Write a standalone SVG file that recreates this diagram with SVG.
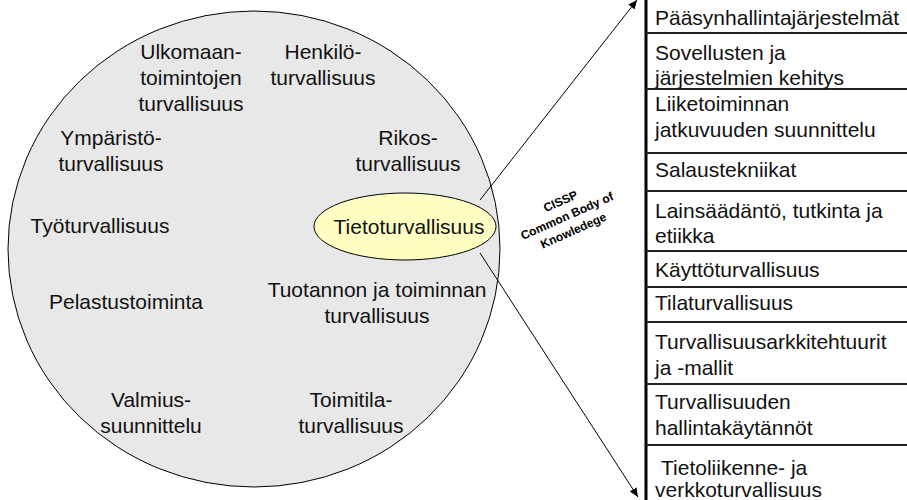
<svg xmlns="http://www.w3.org/2000/svg" width="907" height="500" viewBox="0 0 907 500">
<defs>
<marker id="arr" markerWidth="10" markerHeight="10" refX="9" refY="5" orient="auto" markerUnits="userSpaceOnUse">
<path d="M0,1 L9,5 L0,9 z" fill="#000"/>
</marker>
<style>
.t{font-family:"Liberation Sans",Arial,sans-serif;font-size:21px;fill:#111;}
.c{text-anchor:middle;}
.r{font-family:"Liberation Sans",Arial,sans-serif;font-size:21px;fill:#111;}
.sep{stroke:#222;stroke-width:2;}
.cbk{font-family:"Liberation Sans",Arial,sans-serif;font-size:12px;font-weight:bold;fill:#000;text-anchor:middle;}
.con{stroke:#000;stroke-width:1;fill:none;}
</style>
</defs>
<rect width="907" height="500" fill="#fff"/>
<g id="security-circle">
<ellipse cx="254" cy="249" rx="246" ry="238" fill="#e8e8e8" stroke="#000" stroke-width="1"/>
</g>
<g id="ulkomaan">
<text class="t c" x="191" y="59">Ulkomaan-</text>
<text class="t c" x="191" y="85">toimintojen</text>
<text class="t c" x="191" y="111">turvallisuus</text>
</g>
<g id="henkilo">
<text class="t c" x="323" y="59">Henkilö-</text>
<text class="t c" x="323" y="85">turvallisuus</text>
</g>
<g id="ymparisto">
<text class="t c" x="111" y="145">Ympäristö-</text>
<text class="t c" x="111" y="171">turvallisuus</text>
</g>
<g id="rikos">
<text class="t c" x="408" y="145">Rikos-</text>
<text class="t c" x="408" y="171">turvallisuus</text>
</g>
<g id="tyo">
<text class="t c" x="100" y="233">Työturvallisuus</text>
</g>
<g id="pelastus">
<text class="t c" x="126" y="309">Pelastustoiminta</text>
</g>
<g id="tuotanto">
<text class="t c" x="377" y="297">Tuotannon ja toiminnan</text>
<text class="t c" x="377" y="323">turvallisuus</text>
</g>
<g id="valmius">
<text class="t c" x="151" y="407">Valmius-</text>
<text class="t c" x="151" y="433">suunnittelu</text>
</g>
<g id="toimitila">
<text class="t c" x="351" y="407">Toimitila-</text>
<text class="t c" x="351" y="433">turvallisuus</text>
</g>
<g id="tietoturvallisuus">
<ellipse cx="405" cy="226.5" rx="91" ry="33.5" fill="#ffffc4" stroke="#000" stroke-width="1"/>
<text class="t c" x="409" y="234">Tietoturvallisuus</text>
</g>
<g id="connectors">
<line class="con" x1="480" y1="200" x2="637" y2="0" marker-end="url(#arr)"/>
<line class="con" x1="480" y1="253" x2="638" y2="497" marker-end="url(#arr)"/>
</g>
<g id="cissp-label" transform="translate(567,216) rotate(-24)">
<text class="cbk" x="0" y="-12">CISSP</text>
<text class="cbk" x="0" y="4">Common Body of</text>
<text class="cbk" x="0" y="20">Knowledege</text>
</g>
<g id="cbk-list">
<line x1="646" y1="0" x2="646" y2="500" stroke="#000" stroke-width="3"/>
<line class="sep" x1="646" y1="33" x2="907" y2="33"/>
<line class="sep" x1="646" y1="89" x2="907" y2="89"/>
<line class="sep" x1="646" y1="153" x2="907" y2="153"/>
<line class="sep" x1="646" y1="191" x2="907" y2="191"/>
<line class="sep" x1="646" y1="251" x2="907" y2="251"/>
<line class="sep" x1="646" y1="287" x2="907" y2="287"/>
<line class="sep" x1="646" y1="322" x2="907" y2="322"/>
<line class="sep" x1="646" y1="384" x2="907" y2="384"/>
<line class="sep" x1="646" y1="445" x2="907" y2="445"/>
<text class="r" x="655" y="25">Pääsynhallintajärjestelmät</text>
<text class="r" x="655" y="60">Sovellusten ja</text>
<text class="r" x="655" y="85">järjestelmien kehitys</text>
<text class="r" x="655" y="111">Liiketoiminnan</text>
<text class="r" x="655" y="137">jatkuvuuden suunnittelu</text>
<text class="r" x="655" y="177">Salaustekniikat</text>
<text class="r" x="655" y="218">Lainsäädäntö, tutkinta ja</text>
<text class="r" x="655" y="243">etiikka</text>
<text class="r" x="655" y="277">Käyttöturvallisuus</text>
<text class="r" x="655" y="310">Tilaturvallisuus</text>
<text class="r" x="655" y="349">Turvallisuusarkkitehtuurit</text>
<text class="r" x="655" y="375">ja -mallit</text>
<text class="r" x="655" y="409">Turvallisuuden</text>
<text class="r" x="655" y="435">hallintakäytännöt</text>
<text class="r" x="661" y="475">Tietoliikenne- ja</text>
<text class="r" x="655" y="497">verkkoturvallisuus</text>
</g>
</svg>
